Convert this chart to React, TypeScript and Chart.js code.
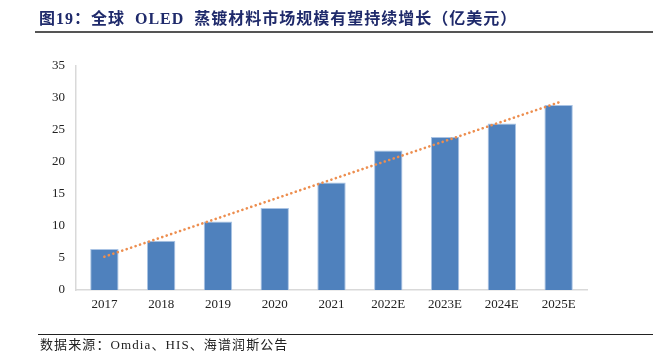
import React, { useEffect, useRef } from "react";
import { Chart, registerables } from "chart.js";

Chart.register(...registerables);

const categories = ["2017", "2018", "2019", "2020", "2021", "2022E", "2023E", "2024E", "2025E"];
const marketSize = [6.4, 7.7, 10.7, 12.8, 16.8, 21.8, 23.9, 26.0, 28.9];
const trendValues = [5.2, null, null, null, null, null, null, null, 29.3];
const yTicks = { min: 0, max: 35, step: 5 };

const titleText = "图19：全球  OLED  蒸镀材料市场规模有望持续增长（亿美元）";
const sourceText = "数据来源：Omdia、HIS、海谱润斯公告";

export default function App() {
  const canvasRef = useRef<HTMLCanvasElement | null>(null);

  useEffect(() => {
    document.body.style.margin = "0";
    const ctx = canvasRef.current!.getContext("2d")!;
    const chart = new Chart(ctx, {
      type: "bar",
      data: {
        labels: categories,
        datasets: [
          {
            type: "line",
            data: trendValues as any,
            borderColor: "#ED8E4F",
            borderWidth: 2.6,
            borderDash: [0.1, 4.6],
            borderCapStyle: "round",
            pointRadius: 0,
            spanGaps: true,
            fill: false,
            order: 0,
          } as any,
          {
            type: "bar",
            data: marketSize,
            backgroundColor: "#4F81BD",
            borderColor: "#A9C3E4",
            borderWidth: 1,
            categoryPercentage: 1,
            barPercentage: 0.5,
            order: 1,
          } as any,
        ],
      },
      options: {
        animation: false,
        responsive: false,
        maintainAspectRatio: false,
        layout: { padding: { top: 66, right: 77, bottom: 0, left: 0 } },
        plugins: { legend: { display: false }, tooltip: { enabled: false }, title: { display: false } },
        scales: {
          x: {
            grid: { display: false, drawTicks: false },
            border: { display: true, color: "#D9D9D9", width: 1.5 },
            ticks: {
              padding: 7,
              color: "#222",
              font: { family: "'Liberation Serif', 'Times New Roman', serif", size: 13 },
            },
            afterFit: (s: any) => {
              s.height = 64;
            },
          },
          y: {
            min: yTicks.min,
            max: yTicks.max,
            grid: { display: false, drawTicks: false },
            border: { display: true, color: "#D9D9D9", width: 1.5 },
            ticks: {
              stepSize: yTicks.step,
              padding: 11,
              color: "#222",
              font: { family: "'Liberation Serif', 'Times New Roman', serif", size: 13 },
            },
            afterFit: (s: any) => {
              s.width = 76;
            },
          },
        },
      },
    });
    return () => chart.destroy();
  }, []);

  return (
    <div style={{ position: "relative", width: 664, height: 354, background: "#fff", overflow: "hidden" }}>
      <canvas ref={canvasRef} width={664} height={354} style={{ position: "absolute", left: 0, top: 0 }} />
      <div
        style={{
          position: "absolute",
          left: 39,
          top: 8,
          fontFamily: "'Liberation Serif', 'Noto Sans CJK SC', serif",
          fontWeight: "bold",
          fontSize: 16,
          lineHeight: "22px",
          letterSpacing: "1px",
          color: "#1F2A6B",
          whiteSpace: "pre",
        }}
      >
        {titleText}
      </div>
      <div style={{ position: "absolute", left: 35, top: 31, width: 618, height: 1.5, background: "#555" }} />
      <div style={{ position: "absolute", left: 38, top: 334, width: 615, height: 1, background: "#222" }} />
      <div
        style={{
          position: "absolute",
          left: 40,
          top: 337,
          fontFamily: "'Liberation Serif', 'Noto Sans CJK SC', serif",
          fontSize: 13,
          lineHeight: "16px",
          letterSpacing: "1.1px",
          color: "#222",
          whiteSpace: "nowrap",
        }}
      >
        {sourceText}
      </div>
    </div>
  );
}
